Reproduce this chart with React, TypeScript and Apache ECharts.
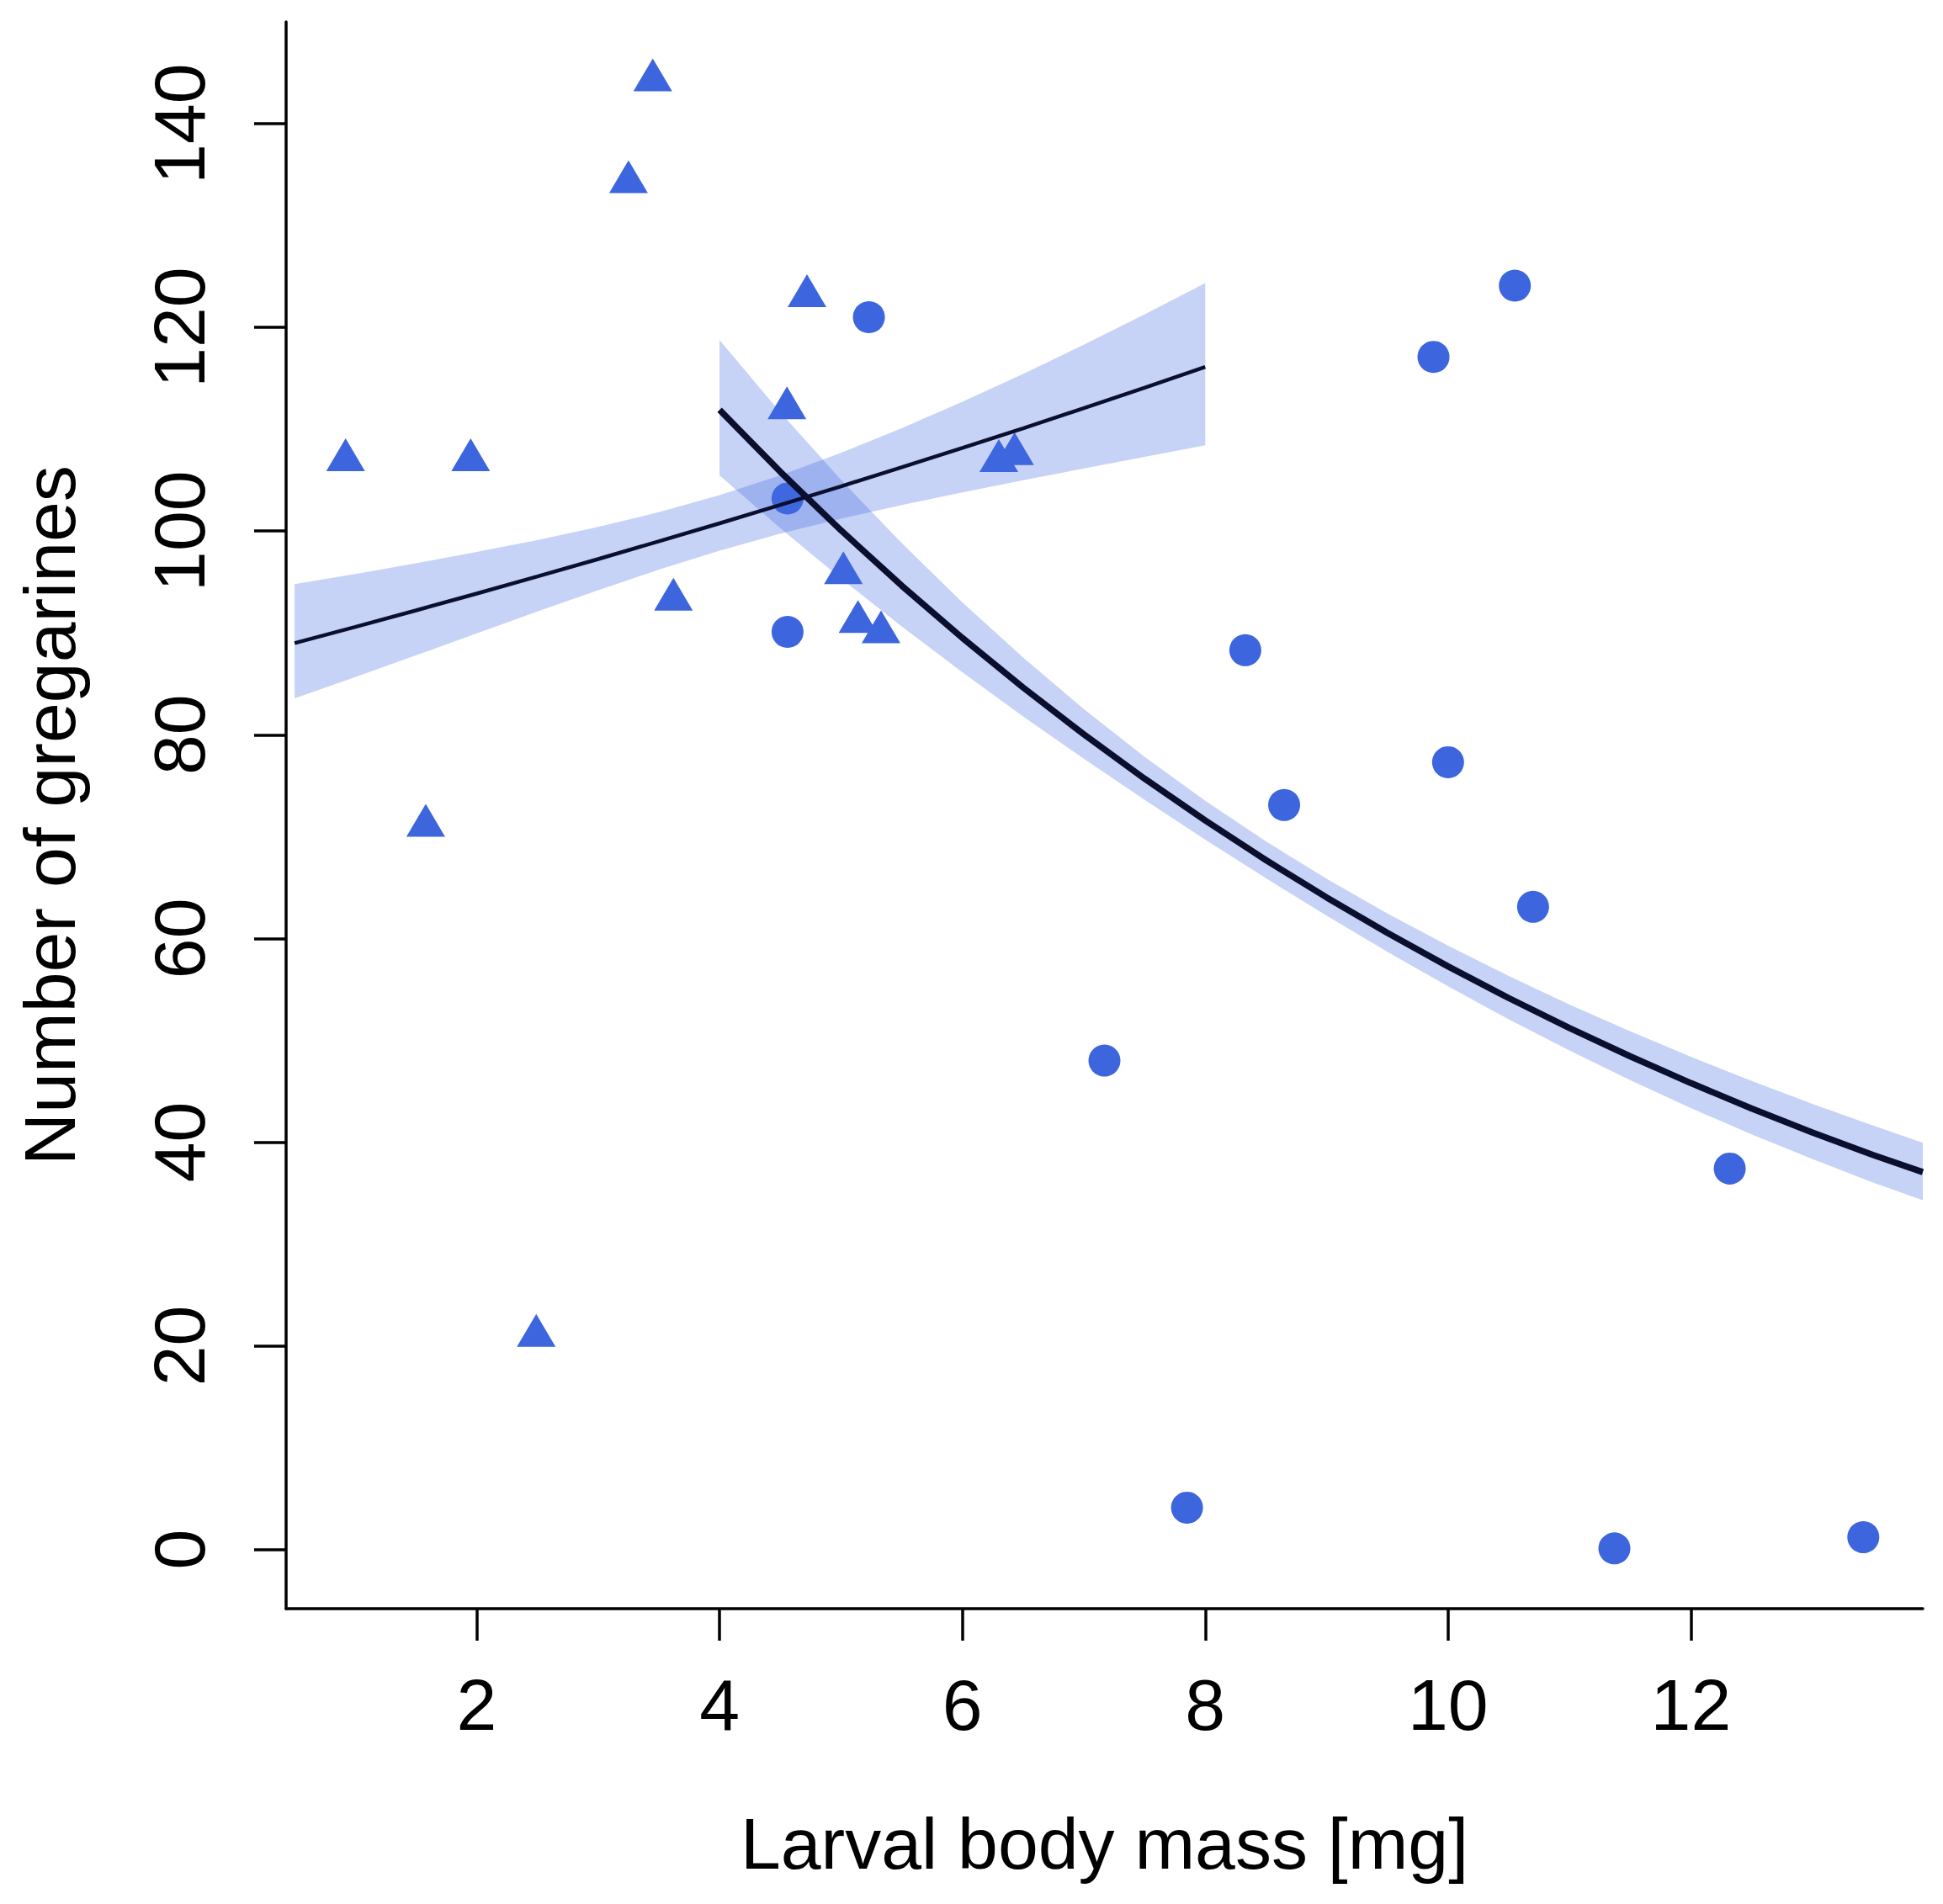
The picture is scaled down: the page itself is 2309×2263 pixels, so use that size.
import React, { useEffect, useRef } from "react";
import * as echarts from "echarts";

// ---- data ----
const xTicks = [2, 4, 6, 8, 10, 12];
const yTicks = [0, 20, 40, 60, 80, 100, 120, 140];

// triangles (first group)
const triX = [0.92, 1.95, 1.58, 2.49, 3.25, 3.45, 3.62, 4.555, 4.72, 5.02, 5.14, 5.33, 6.3, 6.43];
const triY = [107.5, 107.5, 71.6, 21.5, 134.8, 144.8, 93.8, 112.6, 123.6, 96.4, 91.6, 90.6, 107.4, 108.1];

// circles (second group)
const dotX = [4.56, 4.56, 5.23, 7.17, 7.85, 8.33, 8.65, 9.88, 10.0, 10.55, 10.7, 11.37, 12.32, 13.42];
const dotY = [90.1, 103.2, 121.0, 48.0, 4.1, 88.3, 73.1, 117.1, 77.3, 124.1, 63.1, 0.1, 37.4, 1.2];

// fitted curve for triangles, with confidence band
const fitAx = [0.5, 1, 1.5, 2, 2.5, 3, 3.5, 4, 4.5, 5, 5.5, 6, 6.5, 7, 7.5, 8];
const fitAy = [89.0, 90.59, 92.21, 93.86, 95.54, 97.25, 98.99, 100.76, 102.56, 104.39, 106.26, 108.16, 110.09, 112.06, 114.07, 116.11];
const fitAhi = [94.78, 95.79, 96.84, 97.94, 99.11, 100.4, 101.85, 103.52, 105.46, 107.67, 110.1, 112.7, 115.43, 118.3, 121.27, 124.34];
const fitAlo = [83.57, 85.67, 87.8, 89.95, 92.1, 94.2, 96.21, 98.08, 99.74, 101.22, 102.55, 103.8, 104.99, 106.14, 107.29, 108.42];

// fitted curve for circles, with confidence band
const fitBx = [4, 4.5, 5, 5.5, 6, 6.5, 7, 7.5, 8, 8.5, 9, 9.5, 10, 10.5, 11, 11.5, 12, 12.5, 13, 13.5, 13.91];
const fitBy = [111.9, 105.82, 100.07, 94.64, 89.5, 84.64, 80.04, 75.69, 71.58, 67.69, 64.02, 60.54, 57.25, 54.14, 51.2, 48.42, 45.79, 43.3, 40.95, 38.73, 37.05];
const fitBhi = [118.74, 111.67, 105.03, 98.81, 93.0, 87.58, 82.52, 77.83, 73.51, 69.52, 65.86, 62.45, 59.28, 56.31, 53.51, 50.87, 48.37, 46.0, 43.75, 41.63, 39.94];
const fitBlo = [105.46, 100.28, 95.35, 90.64, 86.13, 81.8, 77.64, 73.61, 69.7, 65.91, 62.23, 58.69, 55.29, 52.05, 48.99, 46.09, 43.34, 40.76, 38.33, 36.03, 34.29];

const FONT = "'Liberation Sans', Arial, Helvetica, sans-serif";
const POINT = "#3d65de";
const BAND = "rgba(65,105,225,0.3)";
const LINE = "#0a0f2e";

function bandSeries(xs: number[], hi: number[], lo: number[]) {
  return {
    type: "custom",
    z: 3,
    silent: true,
    data: [[xs[0], hi[0]]],
    renderItem: (_params: any, api: any) => {
      const pts: number[][] = [];
      for (let i = 0; i < xs.length; i++) pts.push(api.coord([xs[i], hi[i]]));
      for (let i = xs.length - 1; i >= 0; i--) pts.push(api.coord([xs[i], lo[i]]));
      return {
        type: "polygon",
        shape: { points: pts },
        style: { fill: BAND, stroke: "none" },
      };
    },
  };
}

export default function App() {
  const ref = useRef<HTMLDivElement>(null);
  useEffect(() => {
    if (!ref.current) return;
    const chart = echarts.init(ref.current, undefined, { renderer: "svg" });
    const axisCommon = {
      type: "value",
      splitLine: { show: false },
      axisLine: { show: true, onZero: false, lineStyle: { color: "#000", width: 3.5 } },
      nameLocation: "middle",
      nameTextStyle: { fontSize: 86, fontFamily: FONT, color: "#000" },
    };
    chart.setOption({
      animation: false,
      backgroundColor: "#ffffff",
      grid: { left: 340, top: 26, right: 24, bottom: 351, containLabel: false, outerBoundsMode: "none" },
      xAxis: {
        ...axisCommon,
        min: 0.43,
        max: 13.91,
        name: "Larval body mass [mg]",
        nameGap: 236,
        axisTick: { show: true, inside: false, length: 38, customValues: xTicks, lineStyle: { color: "#000", width: 3.5 } },
        axisLabel: { customValues: xTicks, fontSize: 86, fontFamily: FONT, color: "#000", margin: 71 },
      },
      yAxis: {
        ...axisCommon,
        min: -5.82,
        max: 150,
        name: "Number of gregarines",
        nameGap: 238,
        nameRotate: 90,
        axisTick: { show: true, inside: false, length: 38, customValues: yTicks, lineStyle: { color: "#000", width: 3.5 } },
        axisLabel: { customValues: yTicks, fontSize: 86, fontFamily: FONT, color: "#000", margin: 84, rotate: 90 },
      },
      series: [
        {
          type: "scatter",
          z: 2,
          symbol: "triangle",
          symbolSize: [46, 39],
          itemStyle: { color: POINT, opacity: 1 },
          data: triX.map((x, i) => [x, triY[i]]),
        },
        {
          type: "scatter",
          z: 2,
          symbol: "circle",
          symbolSize: 38,
          itemStyle: { color: POINT, opacity: 1 },
          data: dotX.map((x, i) => [x, dotY[i]]),
        },
        bandSeries(fitAx, fitAhi, fitAlo),
        bandSeries(fitBx, fitBhi, fitBlo),
        {
          type: "line",
          z: 4,
          showSymbol: false,
          symbol: "none",
          lineStyle: { color: LINE, width: 4.5 },
          data: fitAx.map((x, i) => [x, fitAy[i]]),
        },
        {
          type: "line",
          z: 4,
          showSymbol: false,
          symbol: "none",
          smooth: false,
          lineStyle: { color: LINE, width: 7.5 },
          data: fitBx.map((x, i) => [x, fitBy[i]]),
        },
      ],
    });
    return () => chart.dispose();
  }, []);
  return (
    <div
      ref={ref}
      style={{ position: "absolute", left: 0, top: 0, width: 2309, height: 2263, background: "#fff" }}
    />
  );
}
